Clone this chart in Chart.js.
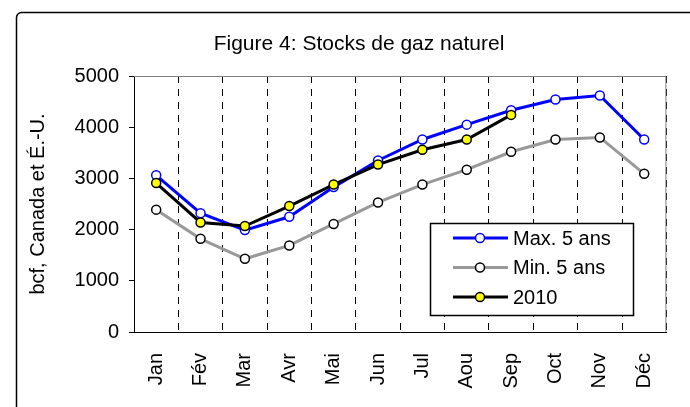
<!DOCTYPE html>
<html>
<head>
<meta charset="utf-8">
<script src="https://cdn.jsdelivr.net/npm/chart.js@4"></script>
<style>
  html, body { margin: 0; padding: 0; background: #fff; }
  #wrap { width: 690px; height: 407px; position: relative; }
</style>
</head>
<body>
<div id="wrap"><canvas id="chart"></canvas></div>
<script>
const months = ["Jan", "Fév", "Mar", "Avr", "Mai", "Jun", "Jul", "Aou", "Sep", "Oct", "Nov", "Déc"];
const max5 = [3060, 2320, 1990, 2250, 2830, 3350, 3760, 4050, 4330, 4540, 4620, 3760];
const min5 = [2390, 1820, 1430, 1690, 2110, 2530, 2880, 3170, 3520, 3760, 3800, 3090];
const y2010 = [2910, 2140, 2070, 2460, 2880, 3270, 3560, 3760, 4240];
const yTicks = [0, 1000, 2000, 3000, 4000, 5000];

const FONT = "Arial, 'Liberation Sans', sans-serif";

// frame, title and plot border (top + right in grey)
const decor = {
  id: "decor",
  beforeDraw(chart) {
    const ctx = chart.ctx;
    ctx.save();
    ctx.strokeStyle = "#000";
    ctx.lineWidth = 1.5;
    ctx.beginPath();
    ctx.roundRect(16.5, 12.5, 900, 900, 5);
    ctx.stroke();
    ctx.fillStyle = "#000";
    ctx.font = "21px " + FONT;
    ctx.textAlign = "center";
    ctx.textBaseline = "alphabetic";
    ctx.fillText("Figure 4: Stocks de gaz naturel", 359, 50);
    ctx.restore();
  },
  beforeDatasetsDraw(chart) {
    const { left, top, right, bottom } = chart.chartArea;
    const ctx = chart.ctx;
    ctx.save();
    ctx.strokeStyle = "#808080";
    ctx.lineWidth = 1;
    ctx.beginPath();
    ctx.moveTo(left, top + 0.5);
    ctx.lineTo(right - 0.5, top + 0.5);
    ctx.lineTo(right - 0.5, bottom);
    ctx.stroke();
    ctx.restore();
  }
};

// legend box drawn inside the plot
const boxLegend = {
  id: "boxLegend",
  afterDatasetsDraw(chart) {
    const ctx = chart.ctx;
    const x0 = 430, y0 = 223, w = 203, h = 92;
    ctx.save();
    ctx.fillStyle = "#fff";
    ctx.fillRect(x0, y0, w, h);
    ctx.strokeStyle = "#000";
    ctx.lineWidth = 1.5;
    ctx.strokeRect(x0 + 0.5, y0 + 0.5, w, h);
    const items = [chart.data.datasets[0], chart.data.datasets[1], chart.data.datasets[2]];
    items.forEach((ds, i) => {
      const y = y0 + 15 + i * 29.5;
      ctx.strokeStyle = ds.borderColor;
      ctx.lineWidth = 3;
      ctx.beginPath();
      ctx.moveTo(453, y);
      ctx.lineTo(508, y);
      ctx.stroke();
      ctx.beginPath();
      ctx.arc(480, y, 4.5, 0, Math.PI * 2);
      ctx.fillStyle = ds.pointBackgroundColor;
      ctx.fill();
      ctx.lineWidth = 1.5;
      ctx.strokeStyle = ds.pointBorderColor;
      ctx.stroke();
      ctx.fillStyle = "#000";
      ctx.font = "20px " + FONT;
      ctx.textAlign = "left";
      ctx.textBaseline = "middle";
      ctx.fillText(ds.label, 513, y + 1);
    });
    ctx.restore();
  }
};

new Chart(document.getElementById("chart"), {
  type: "line",
  data: {
    labels: months,
    datasets: [
      {
        label: "Max. 5 ans",
        data: max5,
        borderColor: "#0000ff",
        borderWidth: 3,
        pointBackgroundColor: "#ffffff",
        pointBorderColor: "#0000ff",
        pointBorderWidth: 1.5,
        pointRadius: 4.5,
        tension: 0,
        order: 1
      },
      {
        label: "Min. 5 ans",
        data: min5,
        borderColor: "#999999",
        borderWidth: 3,
        pointBackgroundColor: "#ffffff",
        pointBorderColor: "#000000",
        pointBorderWidth: 1.5,
        pointRadius: 4.5,
        tension: 0,
        order: 2
      },
      {
        label: "2010",
        data: y2010,
        borderColor: "#000000",
        borderWidth: 3,
        pointBackgroundColor: "#ffff00",
        pointBorderColor: "#000000",
        pointBorderWidth: 1.5,
        pointRadius: 4.5,
        tension: 0,
        order: 0
      }
    ]
  },
  options: {
    responsive: true,
    maintainAspectRatio: false,
    animation: false,
    layout: { padding: { left: 0, top: 76, right: 19, bottom: 0 } },
    plugins: {
      legend: { display: false },
      title: { display: false },
      tooltip: { enabled: false }
    },
    scales: {
      x: {
        offset: true,
        grid: {
          offset: true,
          color: "#000",
          lineWidth: 1,
          drawTicks: false
        },
        border: { color: "#000", width: 1, dash: [7, 6] },
        ticks: {
          color: "#000",
          font: { family: FONT, size: 20 },
          minRotation: 90,
          maxRotation: 90,
          padding: 21,
          autoSkip: false
        },
        afterFit(scale) { scale.height = 75; }
      },
      y: {
        min: 0,
        max: 5000,
        afterBuildTicks(scale) { scale.ticks = yTicks.map(v => ({ value: v })); },
        grid: {
          drawOnChartArea: false,
          drawTicks: true,
          tickLength: 5,
          color: "#000"
        },
        border: { color: "#000", width: 1 },
        ticks: {
          color: "#000",
          font: { family: FONT, size: 20 },
          padding: 10,
          callback: (v) => String(v)
        },
        title: {
          display: true,
          text: "bcf, Canada et É.-U.",
          color: "#000",
          font: { family: FONT, size: 20 },
          padding: { top: 26, bottom: 0 }
        },
        afterFit(scale) { scale.width = 134; }
      }
    }
  },
  plugins: [decor, boxLegend]
});
</script>
</body>
</html>
